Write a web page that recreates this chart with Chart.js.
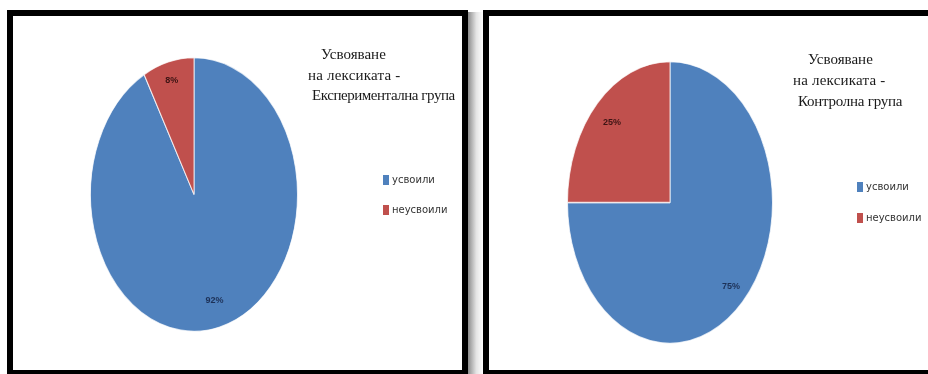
<!DOCTYPE html>
<html>
<head>
<meta charset="utf-8">
<script src="https://cdn.jsdelivr.net/npm/chart.js@4"></script>
<style>
  html, body { margin: 0; padding: 0; background: #fff; }
  body { width: 928px; height: 374px; position: relative; overflow: hidden; }
  .panel { position: absolute; box-sizing: border-box; border: 6px solid #000; border-bottom-width: 4px; }
  #p1 { left: 7px; top: 10px; width: 461px; height: 364px; }
  #p2 { left: 483px; top: 10px; width: 460px; height: 364px; border-right: none; }
  .shadow { position: absolute; left: 468px; top: 12px; width: 15px; height: 362px;
            background: linear-gradient(to right, #8c8c8c, #e4e4e4 55%, #fff); }
  canvas { position: absolute; }
  #c1 { left: 13px; top: 16px; }
  #c2 { left: 489px; top: 16px; }
  .tl { position: absolute; font-family: "Liberation Serif", "Times New Roman", serif;
        font-size: 15px; line-height: 15px; color: #1a1a1a; white-space: nowrap; }
  .lg { position: absolute; font-family: "DejaVu Sans", sans-serif; font-size: 10px;
        line-height: 10px; color: #333; white-space: nowrap; }
  .lg i { display: inline-block; width: 6px; height: 10px; margin-right: 3px; vertical-align: top; }
</style>
</head>
<body>
<div class="panel" id="p1"></div>
<div class="shadow"></div>
<div class="panel" id="p2"></div>
<canvas id="c1" width="448" height="354"></canvas>
<canvas id="c2" width="439" height="354"></canvas>

<div id="t1"></div>
<div id="t2"></div>
<div id="l1"></div>
<div id="l2"></div>

<script>
// --- DATOS ---
const categories = ['усвоили', 'неусвоили'];
const experimentalValues = [92, 8];
const controlValues = [75, 25];
const sliceColors = ['#4f81bd', '#c0504d'];
const labelColors = ['#1d3157', '#3d1414'];
const titleExperimental = ['Усвояване', 'на лексиката -', 'Експериментална група'];
const titleControl = ['Усвояване', 'на лексиката -', 'Контролна група'];

// --- TITULOS Y LEYENDAS (html) ---
function drawTitle(id, lines, lefts, baselines, spacing) {
  const box = document.getElementById(id);
  lines.forEach((txt, i) => {
    const d = document.createElement('div');
    d.className = 'tl';
    d.textContent = txt;
    d.style.left = lefts[i] + 'px';
    d.style.top = (baselines[i] - 12.6) + 'px';
    d.style.letterSpacing = spacing[i] + 'px';
    box.appendChild(d);
  });
}

function drawLegend(id, x, ys) {
  const box = document.getElementById(id);
  categories.forEach((name, i) => {
    const d = document.createElement('div');
    d.className = 'lg';
    d.style.left = x + 'px';
    d.style.top = ys[i] + 'px';
    d.innerHTML = `<i style="background:${sliceColors[i]}"></i>${name}`;
    box.appendChild(d);
  });
}

drawTitle('t1', titleExperimental, [321, 308, 312], [60, 81, 101], [0, 0.2, -0.45]);
drawTitle('t2', titleControl, [808, 793, 798], [65, 86, 107], [0, 0.2, -0.25]);
drawLegend('l1', 383, [175, 205]);
drawLegend('l2', 857, [182, 213]);

// --- PLUGINS: torta ovalada y etiquetas de porcentaje ---
const ellipsePlugin = {
  id: 'ellipse',
  beforeDatasetsDraw(chart, args, opts) {
    const a = chart.chartArea;
    const cx = (a.left + a.right) / 2, cy = (a.top + a.bottom) / 2;
    chart.ctx.save();
    chart.ctx.translate(cx, cy);
    chart.ctx.scale(1, opts.stretch);
    chart.ctx.translate(-cx, -cy);
  },
  afterDatasetsDraw(chart) {
    chart.ctx.restore();
  },
  afterDraw(chart, args, opts) {
    const ctx = chart.ctx;
    const meta = chart.getDatasetMeta(0);
    const values = chart.data.datasets[0].data;
    ctx.save();
    ctx.font = 'bold 9px "Liberation Sans", Arial, sans-serif';
    ctx.textAlign = 'center';
    ctx.textBaseline = 'middle';
    meta.data.forEach((arc, i) => {
      const p = arc.getProps(['x', 'y', 'startAngle', 'endAngle', 'outerRadius']);
      const mid = (p.startAngle + p.endAngle) / 2;
      const r = p.outerRadius * opts.dist[i];
      ctx.fillStyle = labelColors[i];
      ctx.fillText(values[i] + '%', p.x + Math.cos(mid) * r, p.y + Math.sin(mid) * r * opts.stretch);
    });
    ctx.restore();
  }
};

function makePie(canvasId, values, padding, stretch, dist) {
  const ctx = document.getElementById(canvasId).getContext('2d');
  return new Chart(ctx, {
    type: 'pie',
    data: {
      labels: categories,
      datasets: [{
        data: values,
        backgroundColor: sliceColors,
        borderColor: 'rgba(255,255,255,0.75)',
        borderWidth: 1,
        clip: false
      }]
    },
    options: {
      responsive: false,
      animation: false,
      layout: { padding: padding },
      plugins: {
        legend: { display: false },
        title: { display: false },
        tooltip: { enabled: false },
        ellipse: { stretch: stretch, dist: dist }
      }
    },
    plugins: [ellipsePlugin]
  });
}

makePie('c1', experimentalValues, { left: 77, right: 163, top: 74.5, bottom: 71.5 }, 137.5 / 104, [0.8, 0.86]);
makePie('c2', controlValues, { left: 78, right: 155, top: 83.5, bottom: 64.5 }, 141.5 / 103, [0.84, 0.8]);
</script>
</body>
</html>
